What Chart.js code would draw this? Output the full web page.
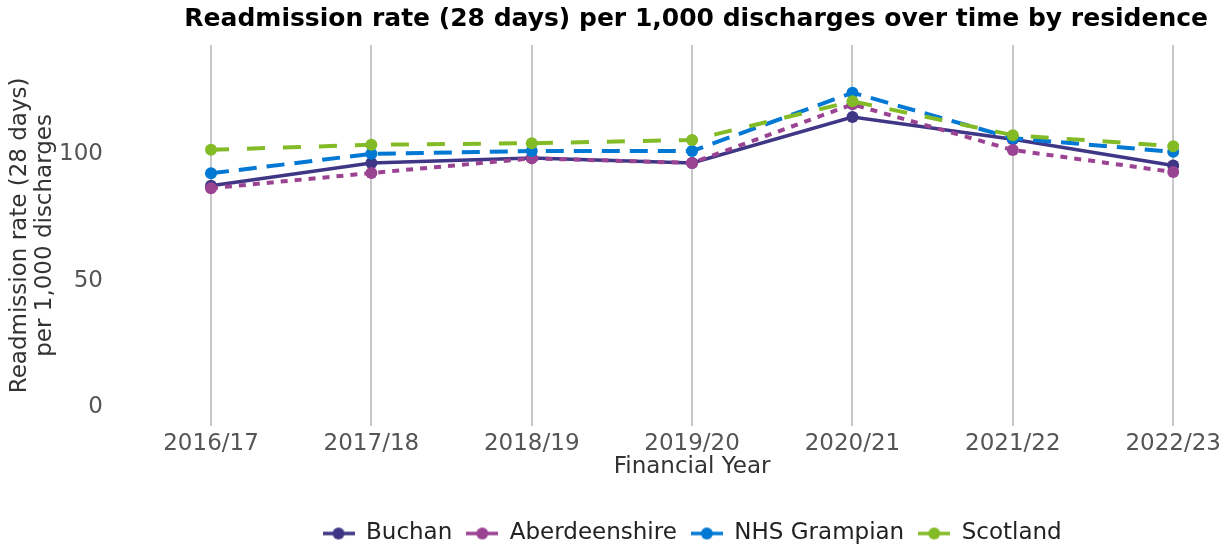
<!DOCTYPE html>
<html>
<head>
<meta charset="utf-8">
<script src="https://cdn.jsdelivr.net/npm/chart.js@4"></script>
<style>
  html, body { margin: 0; padding: 0; background: #ffffff; }
  #wrap { width: 1225px; height: 549px; position: relative; }
</style>
</head>
<body>
<div id="wrap"><canvas id="chart" width="1225" height="549"></canvas></div>
<script>
const categories = ["2016/17", "2017/18", "2018/19", "2019/20", "2020/21", "2021/22", "2022/23"];
const buchan = [86.8, 95.8, 97.8, 95.8, 114.0, 105.2, 94.8];
const aberdeenshire = [85.8, 91.8, 97.6, 95.8, 119.0, 100.9, 92.2];
const nhsGrampian = [91.7, 99.4, 100.5, 100.5, 123.6, 105.6, 100.2];
const scotland = [101.0, 103.0, 103.6, 104.9, 120.2, 106.8, 102.4];
const yTicks = [0, 50, 100];
const seriesNames = ["Buchan", "Aberdeenshire", "NHS Grampian", "Scotland"];

const FONT = "'DejaVu Sans', sans-serif";
const colors = ["#3F3685", "#9B4393", "#0078D4", "#83BB26"];

function legendIcon(color) {
  const c = document.createElement('canvas');
  c.width = 32; c.height = 14;
  const g = c.getContext('2d');
  g.strokeStyle = color; g.lineWidth = 3.5;
  g.beginPath(); g.moveTo(0, 7); g.lineTo(32, 7); g.stroke();
  g.fillStyle = color;
  g.beginPath(); g.arc(16, 7, 6, 0, Math.PI * 2); g.fill();
  return c;
}

function ds(label, data, color, dash, width, order) {
  return {
    label, data,
    borderColor: color, backgroundColor: color,
    borderWidth: width, borderDash: dash,
    pointRadius: 6, pointHoverRadius: 6,
    pointBackgroundColor: color, pointBorderColor: color, pointBorderWidth: 0,
    tension: 0, fill: false, order
  };
}

new Chart(document.getElementById('chart'), {
  type: 'line',
  data: {
    labels: categories,
    datasets: [
      ds(seriesNames[0], buchan, colors[0], [], 3.5, 3),
      ds(seriesNames[1], aberdeenshire, colors[1], [7, 7], 4, 2),
      ds(seriesNames[2], nhsGrampian, colors[2], [18, 10], 4, 1),
      ds(seriesNames[3], scotland, colors[3], [18, 18], 4, 0)
    ]
  },
  options: {
    responsive: false,
    animation: false,
    layout: { padding: { left: 4, right: 17, top: 0, bottom: -6 } },
    plugins: {
      tooltip: { enabled: false },
      title: {
        display: true,
        fullSize: true,
        align: 'end',
        text: "Readmission rate (28 days) per 1,000 discharges over time by residence",
        color: "#000000",
        font: { family: FONT, size: 25, weight: 'bold', lineHeight: 1.2 },
        padding: { top: 4, bottom: 11 }
      },
      legend: {
        position: 'bottom',
        fullSize: false,
        labels: {
          usePointStyle: true,
          pointStyleWidth: 32,
          padding: 14,
          color: "#222222",
          font: { family: FONT, size: 23 },
          generateLabels(chart) {
            return chart.data.datasets.map((d, i) => ({
              text: d.label,
              fillStyle: d.borderColor,
              strokeStyle: d.borderColor,
              fontColor: "#222222",
              lineWidth: 0,
              pointStyle: legendIcon(d.borderColor),
              hidden: false,
              datasetIndex: i
            }));
          }
        }
      }
    },
    scales: {
      x: {
        type: 'category',
        offset: false,
        grid: { display: true, color: "#c8c8c8", lineWidth: 2, drawTicks: false },
        border: { display: false },
        ticks: { color: "#555555", font: { family: FONT, size: 23 }, padding: 4, maxRotation: 0, autoSkip: false },
        title: {
          display: true, text: "Financial Year", color: "#333333",
          font: { family: FONT, size: 23 }, padding: { top: -8, bottom: 27 }
        }
      },
      y: {
        min: -8.3,
        max: 142.5,
        grid: { display: false, drawTicks: true, tickLength: 104 },
        border: { display: false },
        afterBuildTicks(axis) { axis.ticks = yTicks.map(v => ({ value: v })); },
        afterFit(axis) { axis.width = 207; },
        ticks: { color: "#555555", font: { family: FONT, size: 23 }, padding: 4, labelOffset: 2 },
        title: {
          display: true,
          text: ["Readmission rate (28 days)", "per 1,000 discharges"],
          color: "#333333",
          font: { family: FONT, size: 23, lineHeight: 1.08 },
          padding: { top: 4, bottom: 4 }
        }
      }
    }
  }
});
</script>
</body>
</html>
